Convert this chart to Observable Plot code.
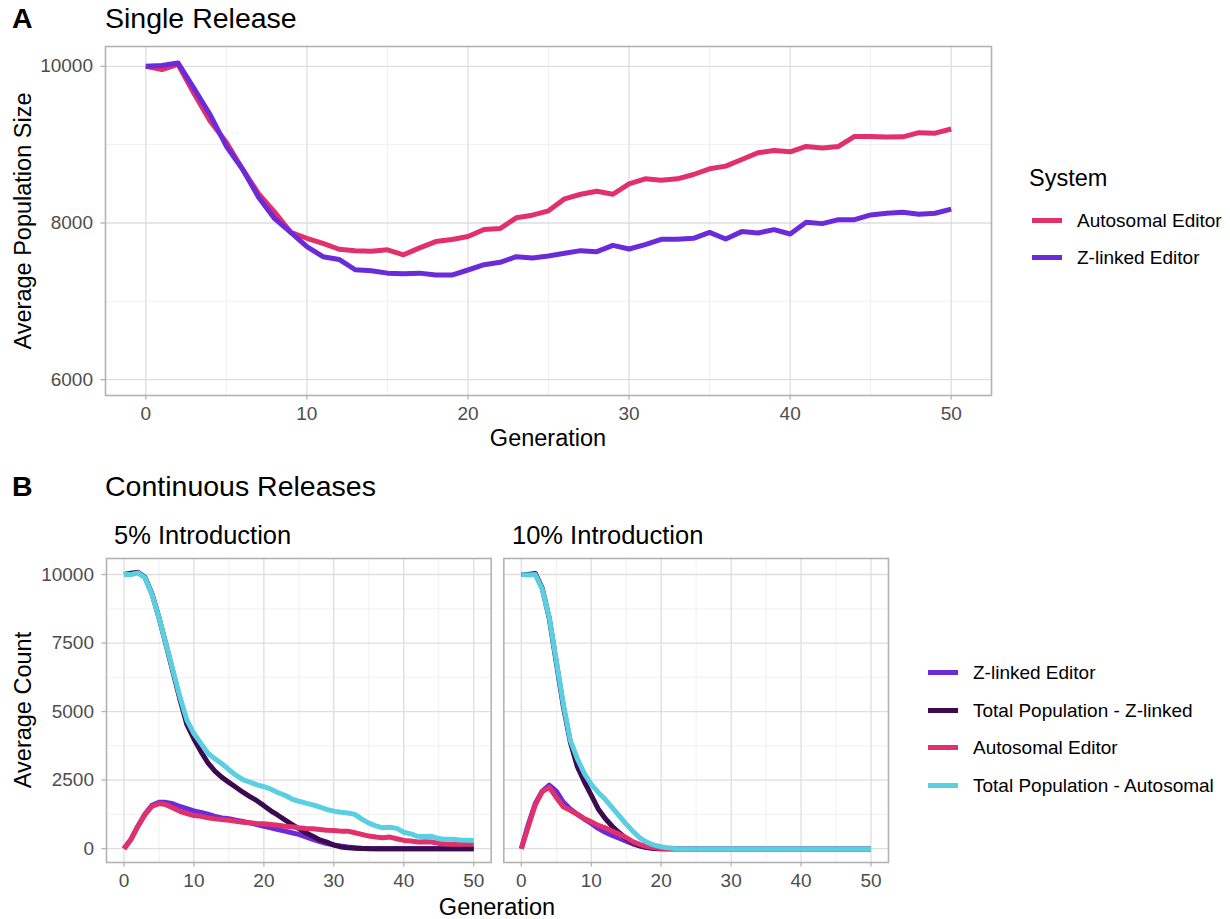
<!DOCTYPE html>
<html>
<head>
<meta charset="utf-8">
<script src="https://cdn.jsdelivr.net/npm/d3@7"></script>
<script src="https://cdn.jsdelivr.net/npm/@observablehq/plot@0.6"></script>
<style>
html, body { margin: 0; padding: 0; background: #fff; }
#fig { position: relative; width: 1230px; height: 919px; overflow: hidden;
       font-family: 'Liberation Sans', Arial, Helvetica, sans-serif; color: #000; background: #fff; }
.t { position: absolute; white-space: nowrap; line-height: 1; }
.sw { position: absolute; height: 5px; }
.plot { position: absolute; }
</style>
</head>
<body>
<div id="fig"></div>
<script>
// ---------------- DATA ----------------
const generations = d3.range(0, 51);
const genTicks = [0, 10, 20, 30, 40, 50];
const genMinorTicks = [5, 15, 25, 35, 45];

// Panel A: Single Release — average population size
const systemsA = ["Autosomal Editor", "Z-linked Editor"];
const colorsA = ["#E2306B", "#6C2BD9"];
const autosomalA = [
  10000, 9958, 10025, 9650, 9300, 9030, 8690, 8375, 8140, 7880,
  7805, 7740, 7665, 7645, 7640, 7658, 7594, 7683, 7763, 7790,
  7827, 7917, 7930, 8066, 8100, 8155, 8309, 8367, 8406, 8367,
  8500, 8564, 8546, 8564, 8619, 8692, 8726, 8811, 8896, 8926,
  8909, 8977, 8956, 8977, 9105, 9105, 9097, 9100, 9153, 9147,
  9200
];
const zlinkedA = [
  10000, 10010, 10043, 9715, 9380, 8980, 8690, 8330, 8055, 7880,
  7698, 7570, 7535, 7403, 7391, 7360, 7352, 7360, 7335, 7335,
  7400, 7468, 7498, 7570, 7552, 7578, 7613, 7647, 7634, 7715,
  7668, 7723, 7791, 7791, 7804, 7880, 7796, 7890, 7872, 7915,
  7860, 8009, 7992, 8043, 8043, 8103, 8124, 8136, 8111, 8124,
  8177
];
const yTicksA = [6000, 8000, 10000];
const yMinorA = [7000, 9000];

// Panel B: Continuous Releases — average counts
const facetsB = ["5% Introduction", "10% Introduction"];
const seriesB = ["Z-linked Editor", "Total Population - Z-linked", "Autosomal Editor", "Total Population - Autosomal"];
const colorsB = ["#6C2BD9", "#3C0A4F", "#E2306B", "#5BCFE2"];

const zlinked5 = [
  0, 340, 830, 1260, 1580, 1690, 1690, 1640, 1540, 1460,
  1380, 1320, 1260, 1180, 1120, 1090, 1040, 990, 940, 880,
  820, 760, 700, 640, 580, 520, 430, 340, 260, 190,
  140, 95, 60, 35, 15, 5, 0, 0, 0, 0,
  0, 0, 0, 0, 0, 0, 0, 0, 0, 0,
  0
];
const totalZ5 = [
  10000, 10050, 10080, 9900, 9300, 8430, 7450, 6450, 5450, 4520,
  4000, 3540, 3130, 2830, 2600, 2420, 2240, 2060, 1900, 1750,
  1570, 1380, 1220, 1050, 890, 730, 580, 450, 320, 240,
  130, 65, 30, 12, 5, 0, 0, 0, 0, 0,
  0, 0, 0, 0, 0, 0, 0, 0, 0, 0,
  0
];
const autosomal5 = [
  0, 338, 820, 1244, 1546, 1643, 1607, 1486, 1365, 1280,
  1208, 1180, 1123, 1087, 1063, 1039, 1003, 966, 942, 918,
  906, 882, 858, 821, 797, 761, 737, 725, 700, 676,
  664, 640, 640, 580, 520, 459, 423, 399, 423, 362,
  302, 278, 242, 254, 242, 193, 170, 165, 165, 165,
  165
];
const totalA5 = [
  10000, 10000, 10060, 9880, 9280, 8430, 7470, 6500, 5530, 4690,
  4200, 3840, 3480, 3280, 3100, 2880, 2680, 2520, 2430, 2330,
  2260, 2170, 2050, 1950, 1810, 1730, 1660, 1600, 1520, 1430,
  1370, 1330, 1300, 1250, 1080, 930, 830, 760, 780, 740,
  600, 540, 450, 440, 450, 370, 340, 340, 320, 310,
  300
];
const zlinked10 = [
  0, 880, 1650, 2100, 2320, 2100, 1700, 1450, 1260, 1080,
  920, 740, 600, 480, 380, 270, 170, 90, 40, 15,
  0, 0, 0, 0, 0, 0, 0, 0, 0, 0,
  0, 0, 0, 0, 0, 0, 0, 0, 0, 0,
  0, 0, 0, 0, 0, 0, 0, 0, 0, 0,
  0
];
const totalZ10 = [
  10000, 10000, 10040, 9500, 8400, 6800, 5200, 3900, 3000, 2450,
  1950, 1450, 1100, 820, 580, 370, 210, 100, 40, 10,
  0, 0, 0, 0, 0, 0, 0, 0, 0, 0,
  0, 0, 0, 0, 0, 0, 0, 0, 0, 0,
  0, 0, 0, 0, 0, 0, 0, 0, 0, 0,
  0
];
const autosomal10 = [
  0, 810, 1600, 2080, 2236, 1870, 1530, 1400, 1250, 1100,
  980, 850, 760, 640, 530, 400, 250, 150, 75, 35,
  10, 0, 0, 0, 0, 0, 0, 0, 0, 0,
  0, 0, 0, 0, 0, 0, 0, 0, 0, 0,
  0, 0, 0, 0, 0, 0, 0, 0, 0, 0,
  0
];
const totalA10 = [
  10000, 9985, 10000, 9460, 8430, 6860, 5290, 3960, 3290, 2750,
  2350, 2050, 1800, 1500, 1200, 900, 620, 380, 230, 130,
  70, 30, 5, 0, 0, 0, 0, 0, 0, 0,
  0, 0, 0, 0, 0, 0, 0, 0, 0, 0,
  0, 0, 0, 0, 0, 0, 0, 0, 0, 0,
  0
];
const yTicksB = [0, 2500, 5000, 7500, 10000];
const yMinorB = [1250, 3750, 6250, 8750];

// ---------------- STYLE ----------------
const FONT = "'Liberation Sans', Arial, Helvetica, sans-serif";
const MAJOR = "#dedede", MINOR = "#ececec", BORDER = "#b3b3b3", TICK = "#b3b3b3", TEXT = "#4d4d4d";
const SMALL = 19, BASE = 23.5, BIG = 28.5, STRIP = 25.5, LW = 5;

const fig = document.getElementById("fig");

function addText(txt, x, baseline, size, opts = {}) {
  const d = document.createElement("div");
  d.className = "t";
  d.textContent = txt;
  d.style.fontSize = size + "px";
  d.style.left = x + "px";
  d.style.top = (baseline - 0.8465 * size) + "px";
  if (opts.bold) d.style.fontWeight = "bold";
  if (opts.color) d.style.color = opts.color;
  if (opts.center) d.style.transform = "translateX(-50%)";
  fig.appendChild(d);
  return d;
}
function addRotated(txt, baselineX, cy, size) {
  const d = document.createElement("div");
  d.className = "t";
  d.textContent = txt;
  d.style.fontSize = size + "px";
  const cx = baselineX - 0.3465 * size;
  d.style.left = cx + "px";
  d.style.top = cy + "px";
  d.style.transform = "translate(-50%, -50%) rotate(-90deg)";
  fig.appendChild(d);
}
function addSwatch(x1, x2, y, color) {
  const s = document.createElement("div");
  s.className = "sw";
  s.style.left = x1 + "px";
  s.style.width = (x2 - x1) + "px";
  s.style.top = (y - 2.5) + "px";
  s.style.background = color;
  fig.appendChild(s);
}
function place(svg, left, top) {
  svg.classList.add("plot");
  svg.style.left = left + "px";
  svg.style.top = top + "px";
  fig.appendChild(svg);
}
function rows(values) {
  return generations.map((g, i) => ({gen: g, value: values[i]}));
}
function lineMark(values, color) {
  return Plot.line(rows(values), {
    x: "gen", y: "value", stroke: color, strokeWidth: LW,
    strokeLinejoin: "round", strokeLinecap: "butt"
  });
}
function gridMarks(yMajor, yMinor) {
  return [
    Plot.gridX(genMinorTicks, {stroke: MINOR, strokeOpacity: 1, strokeWidth: 0.8}),
    Plot.gridY(yMinor, {stroke: MINOR, strokeOpacity: 1, strokeWidth: 0.8}),
    Plot.gridX(genTicks, {stroke: MAJOR, strokeOpacity: 1, strokeWidth: 1.3}),
    Plot.gridY(yMajor, {stroke: MAJOR, strokeOpacity: 1, strokeWidth: 1.3})
  ];
}
const fmt = d3.format("d");

// ---------------- PANEL A ----------------
const plotA = Plot.plot({
  width: 1000, height: 455,
  marginLeft: 105, marginRight: 9, marginTop: 46, marginBottom: 60,
  x: {domain: [-2.5, 52.5]},
  y: {domain: [5798, 10253]},
  style: {fontFamily: FONT, background: "transparent"},
  marks: [
    ...gridMarks(yTicksA, yMinorA),
    Plot.axisX(genTicks, {tickSize: 4.5, tickPadding: 6.5, fontSize: SMALL, stroke: TICK, strokeWidth: 1.3,
      fill: TEXT, label: null, tickFormat: fmt}),
    Plot.axisY(yTicksA, {tickSize: 4.5, tickPadding: 8, fontSize: SMALL, stroke: TICK, strokeWidth: 1.3,
      fill: TEXT, label: null, tickFormat: fmt}),
    lineMark(autosomalA, colorsA[0]),
    lineMark(zlinkedA, colorsA[1]),
    Plot.frame({stroke: BORDER, strokeWidth: 1.6})
  ]
});
place(plotA, 0, 0);

addText("A", 12, 28.5, BIG, {bold: true});
addText("Single Release", 105, 28.5, BIG);
addText("Generation", 548, 447, BASE, {center: true});
addRotated("Average Population Size", 32, 220.5, BASE);

// Legend A
addText("System", 1029, 187, BASE);
const legAy = [220, 257.7];
systemsA.forEach((s, i) => {
  addSwatch(1031.7, 1061.7, legAy[i], colorsA[i]);
  addText(s, 1077, legAy[i] + 6.8, SMALL);
});

// ---------------- PANEL B ----------------
const valuesB = {
  "5% Introduction": [zlinked5, totalZ5, autosomal5, totalA5],
  "10% Introduction": [zlinked10, totalZ10, autosomal10, totalA10]
};
function facetPlot(facet, showY, width, mLeft, mRight) {
  const vals = valuesB[facet];
  return Plot.plot({
    width, height: 400,
    marginLeft: mLeft, marginRight: mRight, marginTop: 58, marginBottom: 38,
    x: {domain: [-2.5, 52.5]},
    y: {domain: [-504, 10584], axis: showY ? undefined : null},
    style: {fontFamily: FONT, background: "transparent"},
    marks: [
      ...gridMarks(yTicksB, yMinorB),
      Plot.axisX(genTicks, {tickSize: 4.5, tickPadding: 6.5, fontSize: SMALL, stroke: TICK, strokeWidth: 1.3,
        fill: TEXT, label: null, tickFormat: fmt}),
      showY ? Plot.axisY(yTicksB, {tickSize: 4.5, tickPadding: 8, fontSize: SMALL, stroke: TICK, strokeWidth: 1.3,
        fill: TEXT, label: null, tickFormat: fmt}) : null,
      ...vals.map((v, i) => lineMark(v, colorsB[i])),
      Plot.frame({stroke: BORDER, strokeWidth: 1.6})
    ]
  });
}
place(facetPlot(facetsB[0], true, 500, 106, 9.3), 0, 500);
place(facetPlot(facetsB[1], false, 410, 13.3, 12), 490, 500);

addText("B", 12, 496, BIG, {bold: true});
addText("Continuous Releases", 105, 496, BIG);
addText(facetsB[0], 114, 545, STRIP);
addText(facetsB[1], 512, 545, STRIP);
addText("Generation", 497, 915.5, BASE, {center: true});
addRotated("Average Count", 32, 710, BASE);

// Legend B
const legBy = [672.3, 710, 747.3, 785];
seriesB.forEach((s, i) => {
  addSwatch(928.3, 958.3, legBy[i], colorsB[i]);
  addText(s, 973, legBy[i] + 6.8, SMALL);
});
</script>
</body>
</html>
